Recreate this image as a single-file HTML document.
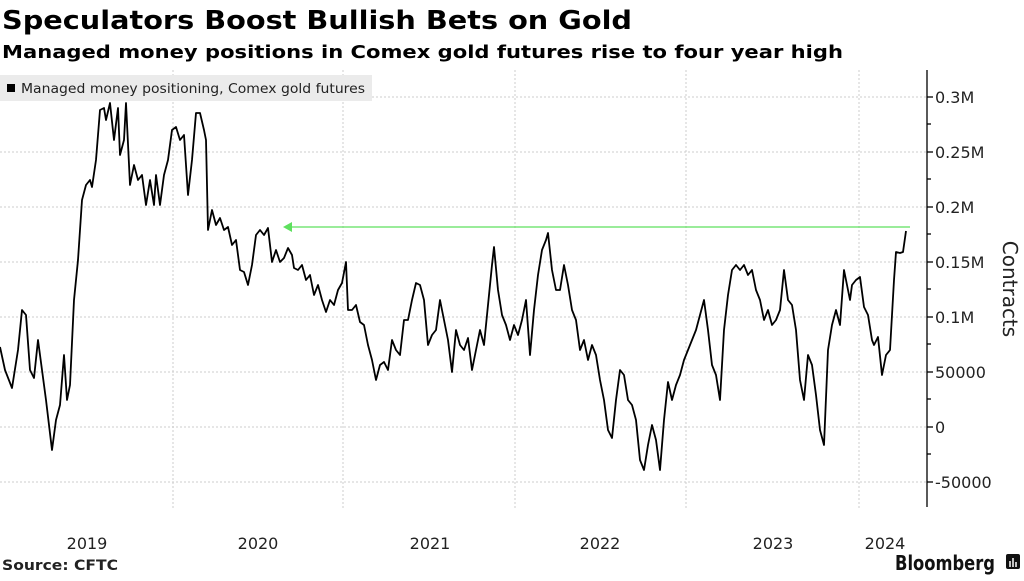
<!DOCTYPE html>
<html><head><meta charset="utf-8"><style>
body{margin:0;width:1024px;height:576px;background:#fff;overflow:hidden;}
</style></head><body>
<svg width="1024" height="576" xmlns="http://www.w3.org/2000/svg" font-family="DejaVu Sans, sans-serif">
<text x="2" y="29" font-size="26" font-weight="bold" fill="#000" textLength="630" lengthAdjust="spacingAndGlyphs">Speculators Boost Bullish Bets on Gold</text>
<text x="2" y="58" font-size="18" font-weight="bold" fill="#000" textLength="841" lengthAdjust="spacingAndGlyphs">Managed money positions in Comex gold futures rise to four year high</text>
<g stroke="#ccc" stroke-dasharray="2,2" stroke-width="1">
<line x1="0" x2="927" y1="97" y2="97"/><line x1="0" x2="927" y1="152" y2="152"/>
<line x1="0" x2="927" y1="207" y2="207"/><line x1="0" x2="927" y1="262" y2="262"/>
<line x1="0" x2="927" y1="317" y2="317"/><line x1="0" x2="927" y1="372" y2="372"/>
<line x1="0" x2="927" y1="427" y2="427"/><line x1="0" x2="927" y1="482" y2="482"/>
<line x1="173" x2="173" y1="70" y2="510"/><line x1="343" x2="343" y1="70" y2="510"/>
<line x1="515" x2="515" y1="70" y2="510"/><line x1="686" x2="686" y1="70" y2="510"/>
<line x1="859" x2="859" y1="70" y2="510"/>
</g>
<rect x="0" y="75" width="372" height="26" fill="#ebebeb"/>
<rect x="7" y="84" width="8" height="8" fill="#000"/>
<text x="21" y="93" font-size="13" fill="#222" textLength="344" lengthAdjust="spacingAndGlyphs">Managed money positioning, Comex gold futures</text>
<g stroke="#000" stroke-width="1.3">
<line x1="927" x2="927" y1="70" y2="507"/>
<line x1="927" x2="933" y1="97" y2="97"/><line x1="927" x2="933" y1="152" y2="152"/><line x1="927" x2="933" y1="207" y2="207"/><line x1="927" x2="933" y1="262" y2="262"/><line x1="927" x2="933" y1="317" y2="317"/><line x1="927" x2="933" y1="372" y2="372"/><line x1="927" x2="933" y1="427" y2="427"/><line x1="927" x2="933" y1="482" y2="482"/>
<line x1="927" x2="931" y1="124" y2="124"/><line x1="927" x2="931" y1="179" y2="179"/><line x1="927" x2="931" y1="234" y2="234"/><line x1="927" x2="931" y1="289" y2="289"/><line x1="927" x2="931" y1="344" y2="344"/><line x1="927" x2="931" y1="399" y2="399"/><line x1="927" x2="931" y1="454" y2="454"/>
</g>
<g font-size="16" fill="#222">
<text x="935" y="103">0.3M</text><text x="935" y="158">0.25M</text><text x="935" y="213">0.2M</text><text x="935" y="268">0.15M</text><text x="935" y="323">0.1M</text><text x="935" y="378">50000</text><text x="935" y="433">0</text><text x="935" y="488">-50000</text>
<text x="87" y="549" text-anchor="middle">2019</text><text x="258" y="549" text-anchor="middle">2020</text><text x="430" y="549" text-anchor="middle">2021</text><text x="600" y="549" text-anchor="middle">2022</text><text x="773" y="549" text-anchor="middle">2023</text><text x="885" y="549" text-anchor="middle">2024</text>
</g>
<text transform="translate(1003,289) rotate(90)" font-size="20" fill="#222" text-anchor="middle">Contracts</text>
<line x1="286" x2="910" y1="227" y2="227" stroke="#5ee05e" stroke-width="1.3"/>
<polyline points="283,227 292,222 292,232 Z" fill="#5ee05e" stroke="none"/>
<polyline fill="none" stroke="#000" stroke-width="1.8" stroke-linejoin="round" points="0,347 5,370 12,388 18,350 22,310 26,315 30,370 34,378 38,340 42,370 46,400 52,450 56,420 60,405 64,355 67,400 70,385 74,300 78,260 82,200 86,185 90,180 92,187 96,160 100,110 104,108 106,120 110,103 114,140 118,108 120,155 124,140 126,103 130,185 134,165 138,180 142,175 146,205 150,180 154,205 156,175 160,205 164,175 168,160 172,130 176,127 180,140 184,135 188,195 192,160 196,113 200,113 204,130 206,140 208,230 212,210 216,225 220,218 224,230 228,227 232,245 236,240 240,270 244,272 248,285 252,265 256,235 260,230 264,235 268,228 272,262 276,250 280,262 284,258 288,248 292,255 294,268 298,270 302,265 306,280 310,275 314,295 318,285 322,300 326,312 330,300 334,305 338,290 342,283 346,262 348,310 352,310 356,305 360,322 364,325 368,345 372,360 376,380 380,365 384,362 388,370 392,340 396,350 400,355 404,320 408,320 412,300 416,283 420,285 424,300 428,345 432,335 436,330 440,300 444,320 448,340 452,372 456,330 460,345 464,350 468,338 472,370 476,350 480,330 484,345 488,305 492,265 494,247 498,290 502,315 506,325 510,340 514,325 518,335 522,320 526,300 530,355 534,310 538,275 542,250 546,240 548,233 552,270 556,290 560,290 564,265 568,285 572,310 576,320 580,350 584,340 588,360 592,345 596,355 600,380 604,400 608,430 612,438 616,400 620,370 624,375 628,400 632,405 636,420 640,460 644,470 648,445 652,425 656,440 660,470 664,420 668,382 672,400 676,385 680,375 684,360 688,350 692,340 696,330 700,315 704,300 708,330 712,365 716,375 720,400 724,330 728,295 732,270 736,265 740,270 744,265 748,275 752,270 756,290 760,300 764,320 768,310 772,325 776,320 780,310 784,270 788,300 792,305 796,330 800,380 804,400 808,355 812,365 816,395 820,430 824,445 828,350 832,325 836,310 840,325 844,270 846,280 850,300 852,285 856,280 860,277 864,307 868,315 872,340 874,345 878,337 882,375 886,355 890,350 894,280 896,252 900,253 903,252 906,231"/>
<text x="2" y="570" font-size="14" font-weight="bold" fill="#222" textLength="116" lengthAdjust="spacingAndGlyphs">Source: CFTC</text>
<text x="895" y="570" font-size="20" font-weight="bold" fill="#111" textLength="100" lengthAdjust="spacingAndGlyphs">Bloomberg</text>
<rect x="1006" y="554" width="14" height="15" rx="2" fill="#111"/>
<g stroke="#fff" stroke-width="1.5"><line x1="1010" x2="1010" y1="561" y2="567"/><line x1="1013" x2="1013" y1="558" y2="567"/><line x1="1016" x2="1016" y1="562" y2="567"/></g>
</svg>
</body></html>
